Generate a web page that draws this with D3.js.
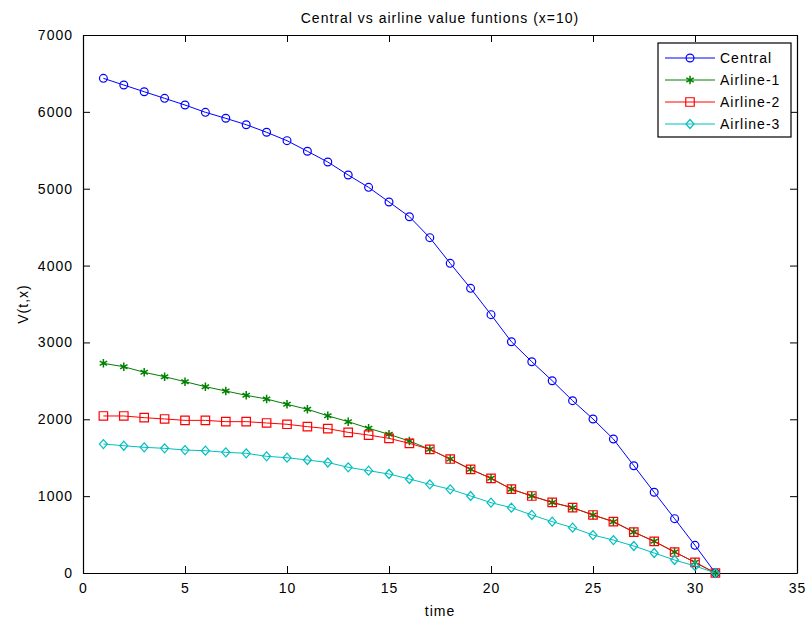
<!DOCTYPE html>
<html>
<head>
<meta charset="utf-8">
<script src="https://cdn.jsdelivr.net/npm/d3@7"></script>
<style>
  body { margin: 0; background: #fff; }
  text { font-family: "Liberation Sans", Arial, sans-serif; font-size: 14px; letter-spacing: 1px; fill: #000; }
</style>
</head>
<body>
<div id="chart"></div>
<script>
var time = d3.range(1, 32);

var central = [6436, 6349, 6262, 6176, 6089, 5994, 5916, 5833, 5734, 5625, 5487, 5347, 5178, 5018, 4827, 4636,
    4363, 4029, 3704, 3361, 3009, 2749, 2502, 2242, 2004, 1743, 1396, 1050, 707, 360, 0];
var airline1 = [2728, 2684, 2611, 2554, 2489, 2424, 2368, 2312, 2264, 2195, 2130, 2045, 1969, 1883, 1804, 1717,
    1609, 1483, 1349, 1232, 1091, 1002, 918, 850, 755, 668, 533, 412, 273, 139, 0];
var airline2 = [2043, 2043, 2021, 2004, 1986, 1986, 1969, 1969, 1952, 1935, 1904, 1878, 1830, 1795, 1752, 1687,
    1609, 1483, 1349, 1232, 1091, 1002, 918, 850, 755, 668, 533, 412, 273, 139, 0];
var airline3 = [1678, 1656, 1635, 1622, 1600, 1591, 1570, 1557, 1518, 1500, 1470, 1438, 1375, 1331, 1288, 1223,
    1154, 1089, 1002, 915, 850, 755, 668, 590, 494, 429, 351, 260, 169, 91, 0];

var seriesNames = ["Central", "Airline-1", "Airline-2", "Airline-3"];
var xTicks = [0, 5, 10, 15, 20, 25, 30, 35];
var yTicks = [0, 1000, 2000, 3000, 4000, 5000, 6000, 7000];

var svgWidth = 810;
var svgHeight = 623;

var chartMargin = { top: 35, right: 13, bottom: 50, left: 83 };
var chartWidth = svgWidth - chartMargin.left - chartMargin.right;
var chartHeight = svgHeight - chartMargin.top - chartMargin.bottom;

var svg = d3.select("#chart")
    .append("svg")
    .attr("width", svgWidth)
    .attr("height", svgHeight);

var chartGroup = svg.append("g")
    .attr("transform", `translate(${chartMargin.left}, ${chartMargin.top})`);

var xScale = d3.scaleLinear().domain([0, 35]).range([0, chartWidth]);
var yScale = d3.scaleLinear().domain([0, 7000]).range([chartHeight, 0]);

var tickLen = 7;

// axes (box with inward ticks on all sides)
chartGroup.append("g")
    .attr("transform", `translate(0, ${chartHeight})`)
    .call(d3.axisBottom(xScale).tickValues(xTicks).tickFormat(d3.format("d"))
        .tickSizeInner(-tickLen).tickSizeOuter(0).tickPadding(10));
chartGroup.append("g")
    .call(d3.axisTop(xScale).tickValues(xTicks).tickSizeInner(-tickLen).tickSizeOuter(0).tickFormat(""));
chartGroup.append("g")
    .call(d3.axisLeft(yScale).tickValues(yTicks).tickFormat(d3.format("d"))
        .tickSizeInner(-tickLen).tickSizeOuter(0).tickPadding(10));
chartGroup.append("g")
    .attr("transform", `translate(${chartWidth}, 0)`)
    .call(d3.axisRight(yScale).tickValues(yTicks).tickSizeInner(-tickLen).tickSizeOuter(0).tickFormat(""));

chartGroup.selectAll(".domain").attr("stroke", "#000").attr("stroke-width", 1.2);
chartGroup.selectAll(".tick line").attr("stroke", "#000");
chartGroup.selectAll(".tick text")
    .style("font-family", "Liberation Sans, Arial, sans-serif")
    .style("font-size", "14px")
    .attr("fill", "#000");

// data series
var series = [
    { name: seriesNames[0], values: central, color: "#0000ff", marker: "circle" },
    { name: seriesNames[1], values: airline1, color: "#008000", marker: "asterisk" },
    { name: seriesNames[2], values: airline2, color: "#ff0000", marker: "square" },
    { name: seriesNames[3], values: airline3, color: "#00bfbf", marker: "diamond" }
];

var line = d3.line()
    .x((d, i) => xScale(time[i]))
    .y(d => yScale(d));

function markerPath(type) {
    if (type == "circle") return d3.symbol().type(d3.symbolCircle).size(48)();
    if (type == "asterisk") return d3.symbol().type(d3.symbolAsterisk).size(50)();
    if (type == "square") return d3.symbol().type(d3.symbolSquare).size(72)();
    return "M0,-4.5L4,0L0,4.5L-4,0Z";
}

series.forEach(s => {
    var g = chartGroup.append("g");
    g.append("path")
        .datum(s.values)
        .attr("d", line)
        .attr("fill", "none")
        .attr("stroke", s.color)
        .attr("stroke-width", 1);
    g.selectAll("path.mk")
        .data(s.values)
        .enter().append("path")
        .attr("class", "mk")
        .attr("d", markerPath(s.marker))
        .attr("transform", (d, i) => `translate(${xScale(time[i])}, ${yScale(d)})`)
        .attr("fill", "none")
        .attr("stroke", s.color)
        .attr("stroke-width", s.marker == "asterisk" ? 1.5 : 1.2);
});

// title and axis labels
svg.append("text")
    .attr("x", chartMargin.left + chartWidth / 2)
    .attr("y", 23)
    .attr("text-anchor", "middle")
    .text("Central vs airline value funtions (x=10)");

svg.append("text")
    .attr("x", chartMargin.left + chartWidth / 2)
    .attr("y", 616)
    .attr("text-anchor", "middle")
    .text("time");

svg.append("text")
    .attr("transform", `translate(28, ${chartMargin.top + chartHeight / 2}) rotate(-90)`)
    .attr("text-anchor", "middle")
    .text("V(t,x)");

// legend
var legend = svg.append("g").attr("transform", "translate(658, 43)");
legend.append("rect")
    .attr("width", 133)
    .attr("height", 94)
    .attr("fill", "#fff")
    .attr("stroke", "#000")
    .attr("stroke-width", 1.2);

series.forEach((s, i) => {
    var row = legend.append("g").attr("transform", `translate(0, ${15 + i * 22})`);
    row.append("line")
        .attr("x1", 7).attr("x2", 57)
        .attr("stroke", s.color);
    row.append("path")
        .attr("d", markerPath(s.marker))
        .attr("transform", "translate(32, 0)")
        .attr("fill", "none")
        .attr("stroke", s.color)
        .attr("stroke-width", s.marker == "asterisk" ? 1.5 : 1.2);
    row.append("text")
        .attr("x", 62)
        .attr("y", 5)
        .text(s.name);
});
</script>
</body>
</html>
